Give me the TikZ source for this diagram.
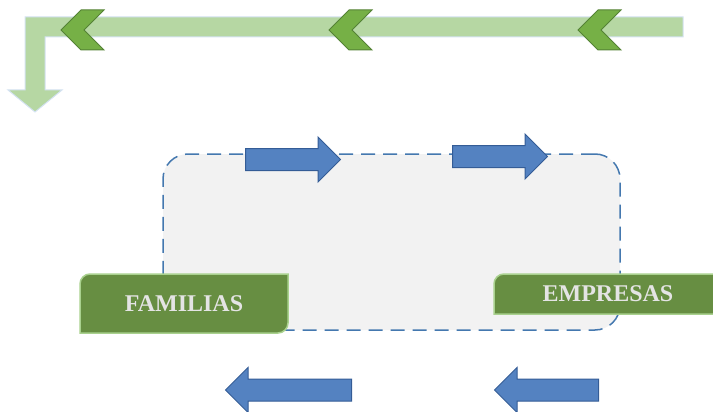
\documentclass[tikz,border=0pt]{standalone}
\usepackage{fontspec}
\setmainfont{Liberation Serif}
\usepackage{tikz}
\usetikzlibrary{positioning,shapes.arrows,shapes.symbols}

\definecolor{barfill}{RGB}{182,215,163}
\definecolor{barline}{RGB}{212,226,242}
\definecolor{chevfill}{RGB}{118,176,70}
\definecolor{chevline}{RGB}{84,130,53}
\definecolor{boxgray}{RGB}{242,242,242}
\definecolor{dashblue}{RGB}{68,120,175}
\definecolor{flowfill}{RGB}{84,130,193}
\definecolor{flowline}{RGB}{52,92,150}
\definecolor{sectfill}{RGB}{103,142,66}
\definecolor{sectline}{RGB}{169,209,142}
\definecolor{secttext}{RGB}{228,228,228}

\begin{document}
\begin{tikzpicture}[
    x=1pt, y=-1pt,
    font=\normalfont,
    chevron/.style={
		signal,
		signal to=west,
		signal from=east,
		signal pointer angle=90,
		draw=chevline,
		fill=chevfill,
		line width=1pt,
		inner sep=0pt,
		minimum width=43pt,
		minimum height=40pt
	},
	flow/.style={
		single arrow,
		draw=flowline,
		fill=flowfill,
		line width=1pt,
		inner xsep=0pt,
		inner ysep=10.5pt,
		single arrow head extend=11.5pt,
		single arrow head indent=0pt,
		anchor=tail
	},
	back/.style={
		flow,
		shape border rotate=180
	},
	circuit/.style={
		rectangle,
		rounded corners=25pt,
		draw=dashblue,
		fill=boxgray,
		line width=1.5pt,
		dash pattern=on 14pt off 8pt,
		minimum width=457pt,
		minimum height=176pt
	},
	sector/.style={
		draw=sectline,
		fill=sectfill,
		line width=1.5pt
	},
	label/.style={
		text=secttext,
		font=\fontsize{24}{28}\selectfont\bfseries
	}
  ]

\useasboundingbox (0,0) rectangle (713,412);
\clip (0,0) rectangle (713,412);

% // The money flow
\draw [draw=barline, fill=barfill, line width=1pt]
  (683,17) -- (25,17) -- (25,90) -- (8,90) -- (35,112) -- (62,90)
  -- (45,90) -- (45,37) -- (683,37) -- cycle;

\node [chevron] (chev1) at (82.5,30) {};
\node [chevron] (chev2) at (350.5,30) {};
\node [chevron] (chev3) at (599.5,30) {};

% // The circuit
\node [circuit] (circuit) at (391.5,242) {};

\node [flow, minimum height=95pt] (flow1) at (245,159.5) {};
\node [flow, minimum height=95pt] (flow2) at (452,156.5) {};
\node [back, minimum height=126pt] (flow3) at (352,390) {};
\node [back, minimum height=104pt] (flow4) at (599,390) {};

% // The sectors
\draw [sector] (80,333) -- (80,284) arc[start angle=180, end angle=270, radius=10]
  -- (288,274) -- (288,323) arc[start angle=0, end angle=90, radius=10] -- cycle;
\node [label] (familias) at (184,303.5) {FAMILIAS};

\draw [sector] (494,314) -- (494,284) arc[start angle=180, end angle=270, radius=10]
  -- (725,274) -- (725,314) -- cycle;
\node [label] (empresas) at (608,294) {EMPRESAS};

\end{tikzpicture}
\end{document}
